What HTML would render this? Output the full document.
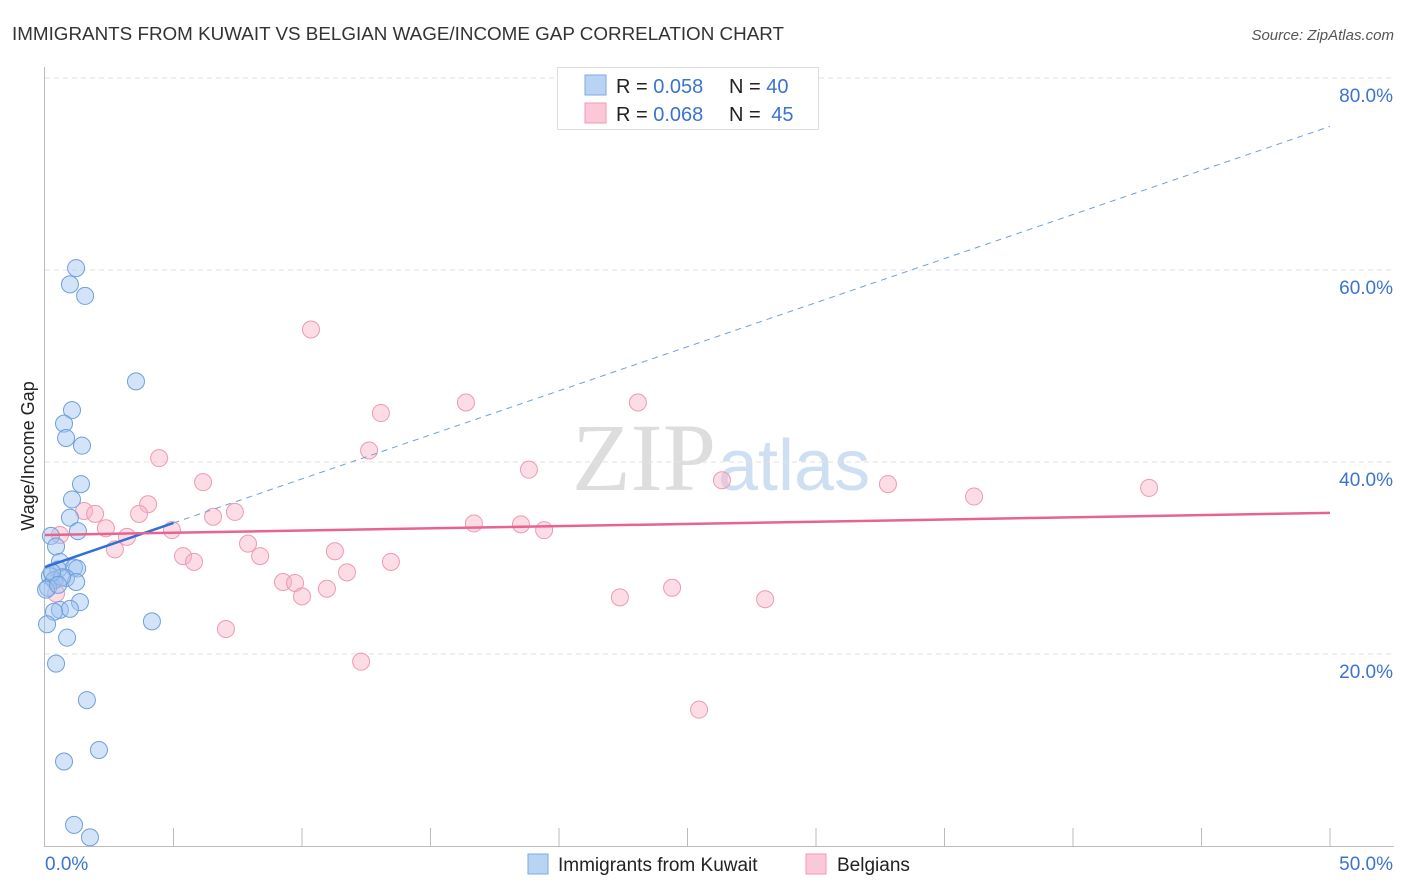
<!DOCTYPE html>
<html><head><meta charset="utf-8"><style>
body{margin:0;background:#fff;font-family:"Liberation Sans",sans-serif;}
svg{display:block}
</style></head><body>
<svg id="chart" width="1406" height="892" xmlns="http://www.w3.org/2000/svg">
<text x="12" y="40" font-size="18" fill="#333" textLength="772" lengthAdjust="spacingAndGlyphs">IMMIGRANTS FROM KUWAIT VS BELGIAN WAGE/INCOME GAP CORRELATION CHART</text>
<text x="1394" y="40" font-size="15" fill="#555" font-style="italic" text-anchor="end">Source: ZipAtlas.com</text>
<text x="34" y="456" font-size="18" fill="#222" text-anchor="middle" transform="rotate(-90 34 456)">Wage/Income Gap</text>
<text x="716" y="490" font-size="96" fill="#ddd" font-family="Liberation Serif,serif" text-anchor="end">ZIP</text>
<text x="718" y="490" font-size="72" fill="#cfdff2" text-anchor="start">atlas</text>
<g id="grid"></g><g id="axes"></g><g id="pts"></g><g id="trends"></g>
<g>
<rect x="557.5" y="67.5" width="261" height="62" fill="#fff" stroke="#ddd"/>
<rect x="585" y="75" width="21" height="20" fill="#b9d3f5" stroke="#7fa8e0"/>
<rect x="585" y="103" width="21" height="20" fill="#fcc8d8" stroke="#ef9ab5"/>
<text x="616" y="93" font-size="20" fill="#222">R = <tspan fill="#3a73d0">0.058</tspan></text>
<text x="729" y="93" font-size="20" fill="#222">N = <tspan fill="#3a73d0">40</tspan></text>
<text x="616" y="121" font-size="20" fill="#222">R = <tspan fill="#3a73d0">0.068</tspan></text>
<text x="729" y="121" font-size="20" fill="#222">N = <tspan fill="#3a73d0" dx="5">45</tspan></text>
</g>
<g>
<rect x="528" y="854" width="20" height="20" fill="#b9d3f5" stroke="#7fa8e0"/>
<text x="558" y="871" font-size="19" fill="#222">Immigrants from Kuwait</text>
<rect x="806" y="854" width="20" height="20" fill="#fcc8d8" stroke="#ef9ab5"/>
<text x="837" y="871" font-size="19" fill="#222">Belgians</text>
</g>
</svg>
<script>
const xTicks=[0,5,10,15,20,25,30,35,40,45,50];
const yTicks=[20,40,60,80];
const kuwaitX=[1.21,0.97,1.56,3.54,1.05,0.74,0.82,1.44,1.40,1.05,0.97,1.28,0.23,0.43,0.58,0.51,1.13,1.25,0.19,0.35,0.82,1.21,0.12,0.04,1.36,0.58,0.97,0.35,0.08,0.86,4.16,0.43,1.63,2.10,0.74,1.13,1.75,0.66,0.27,0.51];
const kuwaitY=[60.2,58.5,57.3,48.4,45.4,44.0,42.5,41.7,37.7,36.1,34.2,32.8,32.3,31.2,29.6,28.8,29.0,28.9,28.1,27.7,27.9,27.5,26.9,26.7,25.4,24.6,24.7,24.4,23.1,21.7,23.4,19.0,15.2,10.0,8.8,2.2,0.9,28.0,28.5,27.2];
const belgX=[10.35,13.07,16.38,23.07,12.61,4.44,18.83,26.34,32.80,36.15,42.96,6.15,4.01,1.52,1.95,7.39,6.54,3.66,4.94,2.37,16.69,18.52,19.42,0.58,3.19,2.72,7.90,5.37,8.37,5.80,11.28,13.46,11.75,9.26,9.73,10.00,10.97,22.37,24.40,28.02,7.04,12.30,25.45,0.43,0.39];
const belgY=[53.8,45.1,46.2,46.2,41.2,40.4,39.2,38.1,37.7,36.4,37.3,37.9,35.6,34.9,34.6,34.8,34.3,34.6,32.9,33.1,33.6,33.5,32.9,32.4,32.2,30.9,31.5,30.2,30.2,29.6,30.7,29.6,28.5,27.5,27.4,26.0,26.8,25.9,26.9,25.7,22.6,19.2,14.2,26.3,27.7];
const kuwaitTrend=[29.06,0.918];
const belgTrend=[32.4,0.046];
const NS='http://www.w3.org/2000/svg';
const sx=v=>45+v*25.7, sy=v=>846-v*9.6;
function mk(t,a,p){const e=document.createElementNS(NS,t);for(const k in a)e.setAttribute(k,a[k]);document.getElementById(p).appendChild(e);return e;}
yTicks.forEach(t=>{
 const g=mk('line',{x1:45,x2:1394,y1:sy(t),y2:sy(t),stroke:'#e2e2e2','stroke-dasharray':'5,4'},'grid');
 
 
 const l=mk('text',{x:1393,y:sy(t)+24,'font-size':19,fill:'#3a73d0','text-anchor':'end'},'grid');
 l.textContent=t.toFixed(1)+'%';
 
 
});
const ax=mk('line',{x1:44.5,x2:44.5,y1:67,y2:846,stroke:'#bbb'},'axes');


const bx=mk('line',{x1:44,x2:1394,y1:846.5,y2:846.5,stroke:'#bbb'},'axes');


xTicks.forEach((t,i)=>{
 if(i==0)return;
 const tk=mk('line',{x1:sx(t),x2:sx(t),y1:828,y2:846,stroke:'#bbb'},'axes');
 
 
});
[[0,'start',45],[50,'end',1393]].forEach(([t,a,x])=>{
 const l=mk('text',{x:x,y:870,'font-size':19,fill:'#3a73d0','text-anchor':a},'axes');
 l.textContent=t.toFixed(1)+'%';
 
 
});
belgX.forEach((x,i)=>{
 const c=mk('circle',{cx:sx(x),cy:sy(belgY[i]),r:8.5,fill:'rgba(248,180,200,0.45)',stroke:'#ec9ab3','stroke-width':1},'pts');
 
 
});
kuwaitX.forEach((x,i)=>{
 const c=mk('circle',{cx:sx(x),cy:sy(kuwaitY[i]),r:8.5,fill:'rgba(160,195,240,0.45)',stroke:'#6f9fdc','stroke-width':1},'pts');
 
 
});
const kf=v=>kuwaitTrend[0]+kuwaitTrend[1]*v, bf=v=>belgTrend[0]+belgTrend[1]*v;
const t1=mk('line',{x1:sx(0),y1:sy(kf(0)),x2:sx(5),y2:sy(kf(5)),stroke:'#2f6fd6','stroke-width':2.5},'trends');


const t2=mk('line',{x1:sx(5),y1:sy(kf(5)),x2:sx(50),y2:sy(kf(50)),stroke:'#6f9fdc','stroke-width':1,'stroke-dasharray':'6,5'},'trends');


const t3=mk('line',{x1:sx(0),y1:sy(bf(0)),x2:sx(50),y2:sy(bf(50)),stroke:'#e8648f','stroke-width':2.5},'trends');


</script>
</body></html>
